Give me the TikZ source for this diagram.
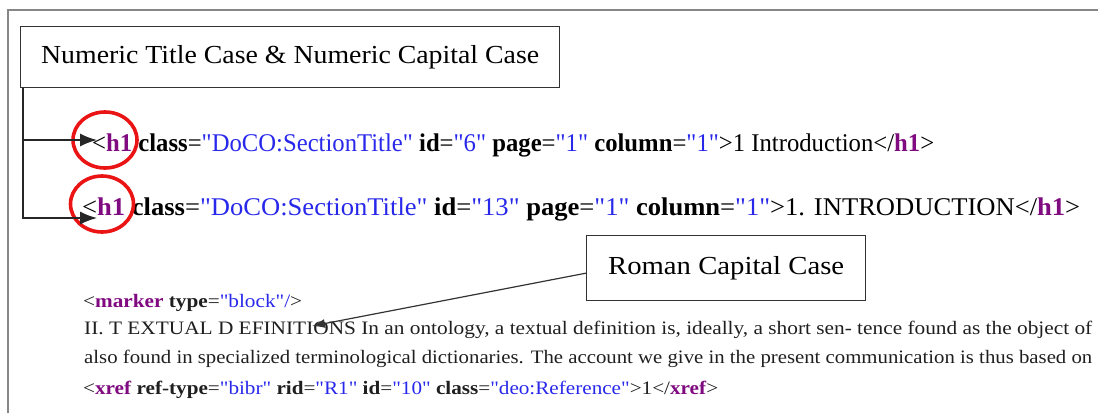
\documentclass[tikz,border=0pt]{standalone}
\usepackage{fontspec}
\setmainfont{Liberation Serif}
\usepackage{graphicx}
\usetikzlibrary{shapes.geometric,arrows.meta}

\definecolor{tagpurple}{RGB}{128,10,128}
\definecolor{valblue}{RGB}{40,40,235}
\definecolor{framegray}{RGB}{135,135,135}
\definecolor{boxline}{RGB}{50,50,50}
\definecolor{ringred}{RGB}{235,20,20}

% markup helpers
\newcommand\tg[1]{\textcolor{tagpurple}{\textbf{#1}}}
\newcommand\at[1]{\textbf{#1}}
\newcommand\vl[1]{\textcolor{valblue}{\textquotedbl#1\textquotedbl}}
\newcommand\fitline[2]{\resizebox{#1pt}{\height}{#2}}

\tikzset{
  labelbox/.style={draw=boxline, line width=1.3pt, fill=white, inner sep=0pt,
                   anchor=north west, font=\fontsize{26}{30}\selectfont},
  codeline/.style={inner sep=0pt, anchor=base west, font=\fontsize{25.5}{30}\selectfont},
  bodyline/.style={inner sep=0pt, anchor=base west, text=black!88, font=\fontsize{19}{23}\selectfont},
  ring/.style={ellipse, draw=ringred, line width=3.6pt, inner sep=0pt},
  pointer/.style={draw=black!85, line width=1.4pt, -{Latex[length=17pt,width=13pt]}},
  thinpointer/.style={draw=black!80, line width=1.2pt, -{Latex[length=13pt,width=9pt]}}
}

\begin{document}
\begin{tikzpicture}[x=1pt,y=-1pt]
\useasboundingbox (0,0) rectangle (1098,413);

% page frame
\draw[framegray, line width=1.8pt] (8,413) -- (8,10) -- (1098,10);

% upper code lines
\node[codeline] (l1) at (92,151) {\fitline{842}{<\tg{h1} \at{class}=\vl{DoCO:SectionTitle} \at{id}=\vl{6} \at{page}=\vl{1} \at{column}=\vl{1}>1 Introduction</\tg{h1}>}};
\node[codeline] (l2) at (82,215) {\fitline{998}{<\tg{h1} \at{class}=\vl{DoCO:SectionTitle} \at{id}=\vl{13} \at{page}=\vl{1} \at{column}=\vl{1}>1. INTRODUCTION</\tg{h1}>}};

% rings round the tags
\node[ring, minimum width=64pt, minimum height=56pt] (r1) at (105,140) {};
\node[ring, minimum width=63pt, minimum height=56pt] (r2) at (102,204) {};

% lower text block
\node[bodyline] (m1) at (83,307) {\fitline{219}{<\tg{marker} \at{type}=\vl{block}\textcolor{valblue}{/}>}};
\node[bodyline] (m2) at (84,334) {\fitline{1008}{II. T EXTUAL D EFINITIONS In an ontology, a textual definition is, ideally, a short sen- tence found as the object of}};
\node[bodyline] (m3) at (84,363) {\fitline{1008}{also found in specialized terminological dictionaries. The account we give in the present communication is thus based on}};
\node[bodyline] (m4) at (83,394) {\fitline{635}{<\tg{xref} \at{ref-type}=\vl{bibr} \at{rid}=\vl{R1} \at{id}=\vl{10} \at{class}=\vl{deo:Reference}>1</\tg{xref}>}};

% label boxes
\node[labelbox, minimum width=539pt, minimum height=61pt] (title) at (20,26)
  {\fitline{498}{Numeric Title Case \& Numeric Capital Case}};
\node[labelbox, minimum width=279pt, minimum height=65pt] (roman) at (586,235)
  {\fitline{236}{Roman Capital Case}};

% connectors
\coordinate (trunk) at ([xshift=3pt]title.south west);
\coordinate (tipa) at (97,140);
\coordinate (tipb) at (97,218);
\coordinate (defs) at (312,326);
\draw[pointer] (trunk) |- (tipa);
\draw[pointer] (trunk) |- (tipb);
\draw[thinpointer] ([yshift=-5pt]roman.west) -- (defs);
\end{tikzpicture}
\end{document}
